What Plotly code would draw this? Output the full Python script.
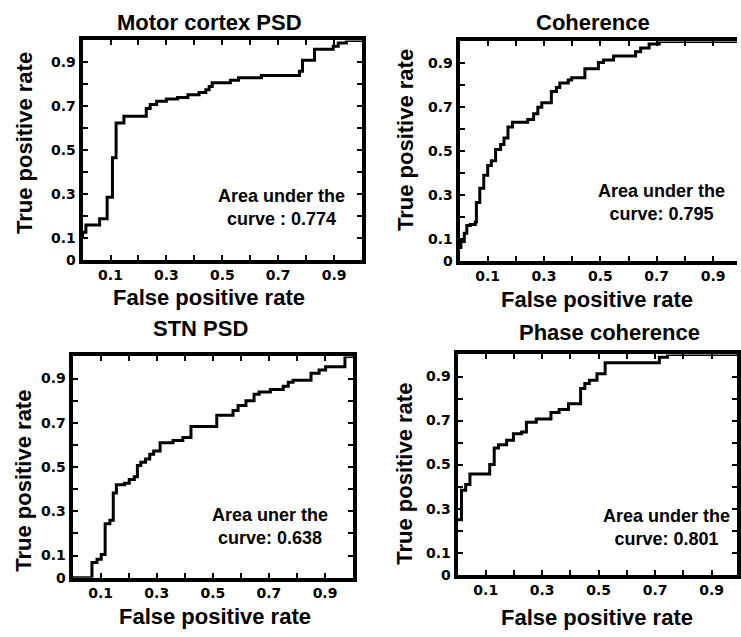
import plotly.graph_objects as go

W, H = 741, 637

# ---------------- data ----------------
panel_titles = ["Motor cortex PSD", "Coherence", "STN PSD", "Phase coherence"]
auc_texts = ["Area under the<br>curve : 0.774", "Area under the<br>curve: 0.795",
             "Area uner the<br>curve: 0.638", "Area under the<br>curve: 0.801"]
x_tick_vals = [0.1, 0.3, 0.5, 0.7, 0.9]
x_tick_text = ["0.1", "0.3", "0.5", "0.7", "0.9"]
y_tick_vals = [0, 0.1, 0.3, 0.5, 0.7, 0.9]
y_tick_text = ["0", "0.1", "0.3", "0.5", "0.7", "0.9"]

mc_fpr = [0, 0, 0.012, 0.061, 0.088, 0.107, 0.12, 0.148, 0.228, 0.242, 0.265, 0.30, 0.34, 0.377,
          0.417, 0.441, 0.453, 0.464, 0.529, 0.558, 0.64, 0.776, 0.787, 0.83, 0.897, 0.915, 0.944, 1.0]
mc_tpr = [0.10, 0.125, 0.158, 0.187, 0.285, 0.465, 0.624, 0.654, 0.69, 0.708, 0.723, 0.733, 0.74, 0.753,
          0.763, 0.775, 0.79, 0.807, 0.819, 0.83, 0.84, 0.86, 0.91, 0.96, 0.974, 0.988, 1.0, 1.0]

coh_fpr = [0, 0.005, 0.017, 0.026, 0.038, 0.056, 0.06, 0.072, 0.086, 0.10, 0.113, 0.128, 0.146, 0.158,
           0.172, 0.188, 0.242, 0.263, 0.278, 0.292, 0.326, 0.344, 0.356, 0.386, 0.398, 0.445, 0.493,
           0.511, 0.547, 0.625, 0.643, 0.673, 0.709, 1.0]
coh_tpr = [0.06, 0.088, 0.125, 0.16, 0.165, 0.176, 0.265, 0.33, 0.39, 0.434, 0.456, 0.507, 0.53, 0.56,
           0.61, 0.632, 0.644, 0.67, 0.70, 0.72, 0.772, 0.79, 0.81, 0.824, 0.835, 0.875, 0.904,
           0.915, 0.934, 0.953, 0.97, 0.988, 1.0, 1.0]

stn_fpr = [0, 0.069, 0.087, 0.102, 0.116, 0.133, 0.145, 0.156, 0.185, 0.202, 0.22, 0.231, 0.243, 0.26,
           0.275, 0.289, 0.312, 0.358, 0.393, 0.422, 0.514, 0.572, 0.59, 0.618, 0.647, 0.665, 0.705,
           0.751, 0.769, 0.786, 0.85, 0.879, 0.902, 0.971, 1.0]
stn_tpr = [0, 0.069, 0.083, 0.105, 0.244, 0.26, 0.383, 0.42, 0.427, 0.444, 0.456, 0.507, 0.522, 0.537,
           0.558, 0.573, 0.61, 0.62, 0.634, 0.683, 0.734, 0.756, 0.778, 0.80, 0.829, 0.839, 0.851,
           0.865, 0.883, 0.892, 0.924, 0.939, 0.953, 1.0, 1.0]

ph_fpr = [0, 0.014, 0.029, 0.044, 0.114, 0.13, 0.145, 0.174, 0.198, 0.227, 0.244, 0.279, 0.331, 0.36,
          0.393, 0.436, 0.451, 0.467, 0.494, 0.523, 0.715, 0.744, 1.0]
ph_tpr = [0.25, 0.384, 0.41, 0.457, 0.50, 0.575, 0.59, 0.61, 0.64, 0.648, 0.692, 0.707, 0.736, 0.75,
          0.776, 0.846, 0.868, 0.883, 0.912, 0.963, 0.988, 1.0, 1.0]

curves = [(mc_fpr, mc_tpr), (coh_fpr, coh_tpr), (stn_fpr, stn_tpr), (ph_fpr, ph_tpr)]

# ---------------- layout geometry (pixels) ----------------
# (left, right, top, bottom, x-range max, right mirror)
boxes = [
    (83, 364, 41, 263, 1.0, True),
    (462, 741, 42, 264, 0.985, False),
    (73, 355, 361, 585, 1.0, True),
    (460, 741, 359, 582, 0.99, True),
]
title_pos = [(211, 23), (596, 23), (202, 333), (613, 337)]
xtitle_pos = [(210, 301), (600, 303), (216, 624), (600, 625)]
ytitle_pos = [(24, 145), (407, 142), (24, 487), (407, 480)]
auc_pos = [(283, 210), (665, 205), (271, 533), (670, 534)]


def px(x):
    return x / W


def py(y):
    return 1 - y / H


fig = go.Figure()
bold = "Liberation Sans, Arial, sans-serif"
tickfont = dict(family="DejaVu Sans, sans-serif", size=14, color="black", weight="bold")

annotations = []


def label(text, x, y, size, angle=0):
    annotations.append(dict(text=text, x=px(x), y=py(y), xref="paper", yref="paper",
                            xanchor="center", yanchor="middle", textangle=angle,
                            showarrow=False, align="center",
                            font=dict(family=bold, size=size, color="black", weight="bold")))


for i, ((fpr, tpr), (l, r, t, b, xmax, mirror_r)) in enumerate(zip(curves, boxes)):
    n = "" if i == 0 else str(i + 1)
    fig.add_trace(go.Scatter(x=fpr, y=tpr, mode="lines", line=dict(color="black", width=3, shape="hv"),
                             xaxis="x" + n, yaxis="y" + n, showlegend=False, hoverinfo="skip"))
    common = dict(showgrid=False, zeroline=False, showline=True, linecolor="black", linewidth=4,
                  ticks="inside", ticklen=5, tickwidth=2, tickcolor="black", tickfont=tickfont,
                  minor=dict(tick0=0, dtick=0.1, ticks="inside", ticklen=5, tickwidth=2, tickcolor="black"))
    fig.update_layout(**{
        "xaxis" + n: dict(domain=[px(l), px(r)], range=[0, xmax], anchor="y" + n,
                          tickvals=x_tick_vals, ticktext=x_tick_text, mirror="allticks", **common),
        "yaxis" + n: dict(domain=[py(b), py(t)], range=[0, 1], anchor="x" + n,
                          tickvals=y_tick_vals, ticktext=y_tick_text,
                          mirror="allticks" if mirror_r else False, **common),
    })
    label(panel_titles[i], *title_pos[i], 22)
    label("False positive rate", *xtitle_pos[i], 22)
    label("True positive rate", *ytitle_pos[i], 22, angle=-90)
    label(auc_texts[i], *auc_pos[i], 18)

fig.update_layout(width=W, height=H, margin=dict(l=0, r=0, t=0, b=0),
                  paper_bgcolor="white", plot_bgcolor="white", annotations=annotations)

fig.write_html("out.html", config={"displayModeBar": False},
               post_script="document.body.style.margin='0';document.body.style.overflow='hidden';")
